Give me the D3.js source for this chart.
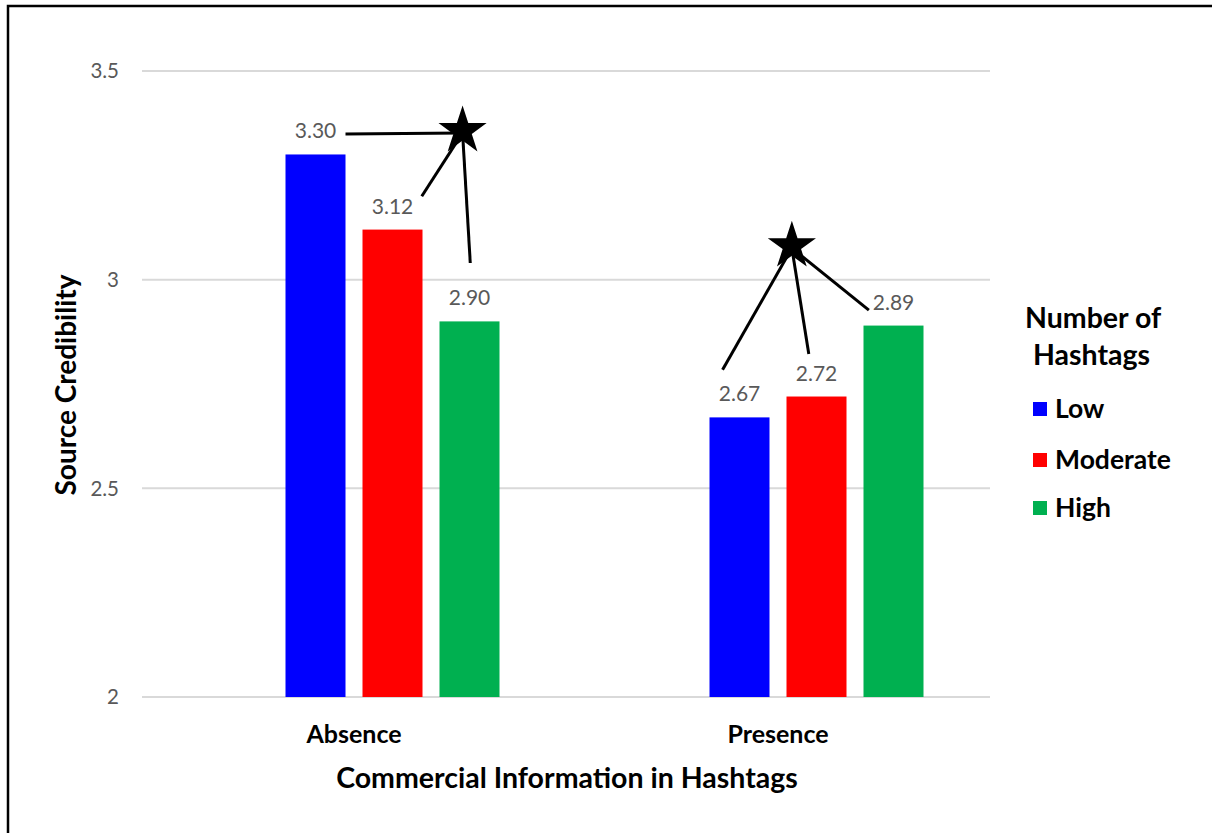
<!DOCTYPE html>
<html><head><meta charset="utf-8">
<script src="https://cdn.jsdelivr.net/npm/d3@7"></script>
<style>body{margin:0;background:#fff}svg{display:block}</style>
</head><body>
<svg id="c" width="1212" height="833"></svg>
<script>
const categories = ["Absence", "Presence"];
const seriesNames = ["Low", "Moderate", "High"];
const seriesColors = ["#0000FF", "#FF0000", "#00B050"];
const lowValues = [3.30, 2.67];
const moderateValues = [3.12, 2.72];
const highValues = [2.90, 2.89];
const yTicks = [2, 2.5, 3, 3.5];
const yTickLabels = ["2", "2.5", "3", "3.5"];
// significance annotations: star position and line endpoints in data space [category, slot, value]
const star1 = ["Absence", 2.91, 3.366];
const star1Lines = [["Absence", 1.39, 3.349], ["Absence", 2.38, 3.20], ["Absence", 3.01, 3.04]];
const star2 = ["Presence", 1.68, 3.09];
const star2Lines = [["Presence", 0.78, 2.784], ["Presence", 1.90, 2.822], ["Presence", 2.68, 2.927]];

const seriesValues = [lowValues, moderateValues, highValues];
const svg = d3.select("#c");
const font = "Lato, 'Open Sans', sans-serif";

// border (left + top)
svg.append("path").attr("d", "M8,833 L8,6 L1212,6").attr("fill", "none").attr("stroke", "#000").attr("stroke-width", 2.5);

const plot = {left: 142, right: 990, top: 71, bottom: 697};
const x0 = d3.scaleBand().domain(categories).range([plot.left, plot.right]);
// four slots per group (first one is an empty, hidden series)
const slotW = 77;
const slotX = (cat, s) => x0(cat) + x0.bandwidth() / 2 + (s - 1.5) * slotW;
const y = d3.scaleLinear().domain([2, 3.5]).range([plot.bottom, plot.top]);

// gridlines
svg.append("g").selectAll("line").data(yTicks).join("line")
  .attr("x1", plot.left).attr("x2", plot.right)
  .attr("y1", d => y(d)).attr("y2", d => y(d))
  .attr("stroke", "#d9d9d9").attr("stroke-width", 2);

// y tick labels
svg.append("g").selectAll("text").data(yTicks).join("text")
  .attr("x", 119).attr("y", d => y(d)).attr("dy", "0.35em")
  .attr("text-anchor", "end").attr("fill", "#595959")
  .style("font", `20.5px ${font}`).text((d, i) => yTickLabels[i]);

// bars
const barW = 60;
const bars = [];
categories.forEach((c, ci) => seriesValues.forEach((vals, si) => bars.push({c, si, v: vals[ci]})));
svg.append("g").selectAll("rect").data(bars).join("rect")
  .attr("x", d => slotX(d.c, d.si + 1) - barW / 2)
  .attr("width", barW)
  .attr("y", d => y(d.v)).attr("height", d => y(2) - y(d.v))
  .attr("fill", d => seriesColors[d.si]);

// value labels
svg.append("g").selectAll("text").data(bars).join("text")
  .attr("x", d => slotX(d.c, d.si + 1)).attr("y", d => y(d.v) - 16)
  .attr("text-anchor", "middle").attr("fill", "#595959")
  .style("font", `21px ${font}`).text(d => d.v.toFixed(2));

// annotations
const pt = a => [slotX(a[0], a[1]), y(a[2])];
function drawStar(center, lines) {
  const [cx, cy] = pt(center);
  lines.forEach(l => {
    const [lx, ly] = pt(l);
    svg.append("line").attr("x1", cx).attr("y1", cy + 6).attr("x2", lx).attr("y2", ly)
      .attr("stroke", "#000").attr("stroke-width", 3);
  });
  const star = d3.symbol().type(d3.symbolStar).size(720);
  svg.append("path").attr("d", star()).attr("transform", `translate(${cx},${cy + 4})`).attr("fill", "#000");
}
drawStar(star1, star1Lines);
drawStar(star2, star2Lines);

// x category labels
svg.append("g").selectAll("text").data(categories).join("text")
  .attr("x", d => x0(d) + x0.bandwidth() / 2).attr("y", 734).attr("dy", "0.35em")
  .attr("text-anchor", "middle").attr("fill", "#000")
  .style("font", `bold 25px ${font}`).text(d => d);

// axis titles
svg.append("text").attr("x", (plot.left + plot.right) / 2 + 1).attr("y", 778).attr("dy", "0.35em")
  .attr("text-anchor", "middle").style("font", `bold 28.5px ${font}`).text("Commercial Information in Hashtags");
svg.append("text").attr("transform", "translate(66,385) rotate(-90)").attr("dy", "0.35em")
  .attr("text-anchor", "middle").style("font", `bold 28px ${font}`).text("Source Credibility");

// legend
const lg = svg.append("g");
lg.append("text").attr("x", 1025).attr("y", 318).attr("dy", "0.35em").style("font", `bold 28.5px ${font}`).text("Number of");
lg.append("text").attr("x", 1033).attr("y", 355).attr("dy", "0.35em").style("font", `bold 28.5px ${font}`).text("Hashtags");
const legendY = [409, 460, 508];
seriesNames.forEach((n, i) => {
  lg.append("rect").attr("x", 1033).attr("y", legendY[i] - 7).attr("width", 14).attr("height", 14).attr("fill", seriesColors[i]);
  lg.append("text").attr("x", 1055).attr("y", legendY[i]).attr("dy", "0.35em").style("font", `bold 26.5px ${font}`).text(n);
});
</script>
</body></html>
